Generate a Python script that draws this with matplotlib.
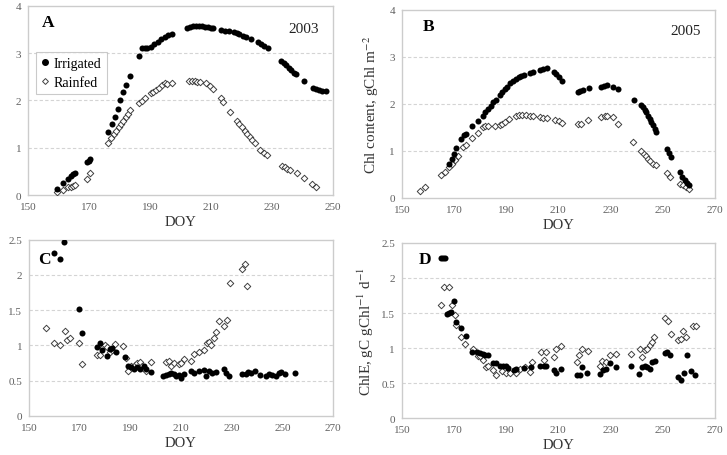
"""Four-panel chlorophyll content / ChlE scatter for irrigated vs rainfed maize."""

import matplotlib

matplotlib.use("Agg")
import matplotlib.pyplot as plt
from matplotlib.lines import Line2D

plt.rcParams["font.family"] = ["Liberation Serif", "DejaVu Serif"]
plt.rcParams["mathtext.fontset"] = "stix"

INK = "#000000"
EDGE = "#404040"
MUTED = "#606060"
FRAME = "#cccccc"
GRID = "#d4d4d4"

# ---- panel A: Chl content 2003 ----
a_irr_doy = [159.3, 161.3, 163.1, 164.0, 164.8, 165.4, 169.2, 169.8, 170.4,
             176.1, 177.3, 178.3, 179.4, 180.2, 181.2, 182.2, 183.4,
             186.3, 187.3, 188.2, 188.9, 190.3, 191.4, 192.5, 193.6, 194.7, 195.8, 197.2,
             202.1, 203.1, 204.0, 205.1, 206.0, 207.0, 208.0, 208.9, 209.8, 210.6,
             213.3, 214.4, 216.0, 217.4, 218.5, 219.3, 220.4, 221.5, 223.2,
             225.4, 226.5, 227.5, 228.6,
             233.0, 233.8, 234.7, 235.5, 236.3, 237.1, 238.0, 240.4,
             243.4, 244.3, 245.4, 246.5, 247.6]
a_irr_chl = [0.13, 0.25, 0.34, 0.41, 0.45, 0.47, 0.69, 0.72, 0.76,
             1.33, 1.50, 1.66, 1.83, 2.01, 2.17, 2.33, 2.51,
             2.94, 3.10, 3.10, 3.10, 3.13, 3.19, 3.24, 3.30, 3.35, 3.38, 3.41,
             3.54, 3.56, 3.57, 3.58, 3.58, 3.57, 3.56, 3.55, 3.54, 3.53,
             3.49, 3.47, 3.46, 3.44, 3.42, 3.40, 3.37, 3.34, 3.30,
             3.23, 3.19, 3.15, 3.10,
             2.84, 2.80, 2.75, 2.69, 2.64, 2.59, 2.55, 2.42,
             2.27, 2.25, 2.23, 2.21, 2.20]
a_rain_doy = [159.3, 161.3, 163.1, 164.0, 164.8, 165.4, 169.3, 170.3,
              176.3, 177.2, 178.0, 178.8, 179.7, 180.4, 181.2, 182.0, 182.8, 183.5,
              186.3, 187.3, 188.3, 190.3, 191.0, 192.0, 192.8, 193.9, 194.8, 195.6, 197.2,
              202.9, 203.8, 204.6, 205.4, 206.2, 208.4, 209.5, 210.6,
              213.3, 214.0, 216.3,
              218.5, 219.3, 220.2, 221.0, 221.8, 222.6, 223.4, 224.3,
              226.2, 227.5, 228.4,
              233.3, 234.1, 234.9, 236.0, 238.3, 240.4, 243.2, 244.3]
a_rain_chl = [0.06, 0.11, 0.18, 0.18, 0.20, 0.22, 0.34, 0.46,
              1.10, 1.20, 1.29, 1.36, 1.43, 1.50, 1.57, 1.64, 1.71, 1.80,
              1.94, 1.99, 2.05, 2.15, 2.18, 2.23, 2.27, 2.32, 2.37, 2.35, 2.36,
              2.41, 2.41, 2.41, 2.40, 2.40, 2.36, 2.31, 2.24,
              2.05, 1.96, 1.76,
              1.57, 1.50, 1.43, 1.36, 1.29, 1.22, 1.17, 1.10,
              0.96, 0.90, 0.85,
              0.62, 0.59, 0.56, 0.52, 0.46, 0.37, 0.23, 0.18]

# ---- panel B: Chl content 2005 ----
b_irr_doy = [168.0, 169.0, 170.0, 170.9, 172.8, 173.7, 174.4, 177.0, 179.2,
             181.0, 182.0, 183.0, 184.0, 185.0, 186.0, 187.5, 188.5, 189.4, 190.4,
             191.6, 192.6, 193.6, 194.8, 195.8, 197.0, 199.0, 200.3, 202.8, 204.1, 205.6,
             208.3, 209.2, 210.3, 211.4,
             217.5, 218.4, 219.5, 221.6,
             226.5, 227.5, 228.7, 231.0, 232.9,
             238.9,
             241.8, 242.5, 243.1, 243.8, 244.4, 245.0, 245.7, 246.3, 247.0, 247.6,
             251.7, 252.5, 253.4,
             256.8, 257.6, 258.5, 259.2, 260.0]
b_irr_chl = [0.73, 0.83, 0.94, 1.05, 1.26, 1.33, 1.36, 1.52, 1.63,
             1.75, 1.82, 1.89, 1.96, 2.04, 2.09, 2.18, 2.25, 2.32, 2.37,
             2.44, 2.49, 2.53, 2.57, 2.59, 2.61, 2.66, 2.67, 2.72, 2.74, 2.76,
             2.67, 2.64, 2.58, 2.49,
             2.26, 2.28, 2.30, 2.33,
             2.37, 2.39, 2.40, 2.37, 2.32,
             2.09,
             1.98, 1.93, 1.87, 1.82, 1.75, 1.68, 1.61, 1.54, 1.47, 1.41,
             1.03, 0.96, 0.87,
             0.55, 0.45, 0.37, 0.32, 0.27]
b_rain_doy = [156.8, 159.0, 165.0, 166.4,
              168.2, 169.3, 170.4, 171.4, 173.4, 174.4, 177.0, 179.2,
              181.0, 182.0, 183.0, 185.6, 187.5, 188.5, 189.7, 190.9,
              193.9, 194.9, 196.2, 197.5, 199.0, 200.3,
              202.8, 204.0, 205.6, 208.6, 210.1, 211.5,
              217.5, 218.8, 221.4,
              226.5, 227.8, 228.8, 231.0, 232.9,
              238.7,
              241.8, 242.7, 243.5, 244.4, 245.3, 246.3, 247.6,
              251.7, 253.0,
              256.8, 258.0, 258.9, 260.2]
b_rain_chl = [0.15, 0.23, 0.49, 0.54,
              0.66, 0.73, 0.80, 0.90, 1.08, 1.12, 1.27, 1.38,
              1.50, 1.52, 1.52, 1.52, 1.55, 1.58, 1.61, 1.67,
              1.74, 1.77, 1.77, 1.77, 1.75, 1.75,
              1.72, 1.71, 1.70, 1.65, 1.63, 1.60,
              1.57, 1.58, 1.65,
              1.73, 1.75, 1.74, 1.72, 1.58,
              1.19,
              0.99, 0.94, 0.89, 0.83, 0.78, 0.73, 0.69,
              0.52, 0.45,
              0.30, 0.28, 0.23, 0.18]

# ---- panel C: ChlE 2003 ----
c_irr_doy = [159.9, 162.1, 163.8, 169.7, 170.8,
             177.0, 177.9, 178.8, 180.8, 181.8, 182.9, 184.2,
             187.8, 189.0, 190.4, 191.4, 192.8, 193.9, 195.4, 196.3, 198.0,
             202.9, 204.2, 205.3, 206.2, 207.2, 208.2, 209.2, 210.1, 211.0,
             214.0, 215.0, 217.1, 218.9, 220.0, 221.0, 222.1, 224.0,
             227.0, 227.9, 228.9,
             234.2, 235.5, 236.4, 237.8, 239.1, 241.0,
             243.7, 244.7, 246.0, 247.4, 248.7, 249.6, 250.9, 255.1]
c_irr_chle = [2.31, 2.23, 2.47, 1.52, 1.17,
              0.98, 1.04, 0.93, 0.85, 0.95, 0.96, 0.90,
              0.83, 0.71, 0.69, 0.67, 0.69, 0.66, 0.71, 0.67, 0.62,
              0.56, 0.58, 0.59, 0.61, 0.59, 0.57, 0.58, 0.53, 0.59,
              0.63, 0.61, 0.64, 0.65, 0.57, 0.63, 0.61, 0.62,
              0.66, 0.61, 0.57,
              0.59, 0.59, 0.62, 0.61, 0.63, 0.58,
              0.57, 0.59, 0.58, 0.57, 0.61, 0.62, 0.60, 0.61]
c_rain_doy = [156.8, 159.9, 162.1, 164.0, 165.1, 166.0, 169.7, 171.0,
              177.0, 177.9, 179.0, 179.9, 180.8, 181.8, 182.9, 184.0,
              187.1, 188.2, 189.1, 190.4, 191.7, 192.8, 193.7, 194.7, 196.1, 198.0,
              204.2, 205.1, 205.9, 207.1, 209.1, 210.1, 211.2,
              214.0, 215.1, 217.1, 218.9,
              220.3, 221.1, 222.0, 223.0, 223.9, 225.0, 226.8, 228.2,
              229.2, 234.0, 235.1, 236.0]
c_rain_chle = [1.24, 1.03, 1.00, 1.21, 1.08, 1.11, 1.03, 0.74,
               0.86, 0.86, 0.97, 1.00, 0.97, 0.90, 0.93, 1.02,
               0.99, 0.82, 0.63, 0.71, 0.72, 0.75, 0.77, 0.71, 0.63, 0.76,
               0.76, 0.78, 0.71, 0.75, 0.73, 0.75, 0.80,
               0.78, 0.88, 0.90, 0.93,
               1.03, 1.05, 1.00, 1.11, 1.19, 1.34, 1.27, 1.36,
               1.88, 2.09, 2.15, 1.85]

# ---- panel D: ChlE 2005 ----
d_irr_doy = [164.8, 165.7, 166.4, 167.3, 168.0, 168.9, 169.8, 170.9, 172.8, 174.4,
             177.0, 178.8, 180.0, 181.1, 182.0, 183.0,
             185.0, 186.2, 187.7, 188.8, 190.0, 190.8,
             193.0, 193.9, 196.8, 199.6, 202.8, 204.4, 205.4,
             208.3, 209.2, 211.1,
             217.2, 218.2, 219.2, 221.1,
             226.1, 227.1, 228.4, 229.9, 232.0,
             238.0,
             241.0, 242.2, 243.3, 244.0, 245.0, 246.1, 247.0,
             250.8, 251.7, 252.7,
             255.9, 257.0, 258.2, 259.4, 261.0, 262.3]
d_irr_chle = [2.29, 2.29, 2.28, 1.48, 1.50, 1.52, 1.67, 1.37, 1.28, 1.17,
              0.95, 0.95, 0.93, 0.92, 0.90, 0.90,
              0.79, 0.79, 0.74, 0.75, 0.75, 0.71,
              0.69, 0.70, 0.71, 0.73, 0.74, 0.75, 0.75,
              0.68, 0.64, 0.70,
              0.61, 0.61, 0.73, 0.64,
              0.63, 0.68, 0.70, 0.78, 0.73,
              0.74,
              0.63, 0.73, 0.75, 0.73, 0.70, 0.80, 0.82,
              0.93, 0.95, 0.90,
              0.59, 0.54, 0.65, 0.90, 0.67, 0.61]
d_rain_doy = [164.8, 166.1, 168.0, 169.3, 170.2, 170.9, 172.8, 174.0,
              177.2, 179.2, 180.0, 181.1, 182.1, 183.0,
              185.0, 186.0, 188.2, 190.0, 191.3, 193.9, 195.2, 197.3, 199.2, 200.0,
              203.2, 204.4, 205.1, 208.2, 209.2, 211.1,
              217.2, 218.0, 219.2, 221.4,
              226.1, 226.9, 228.2, 229.9, 232.0,
              238.0,
              241.2, 242.2, 243.1, 244.0, 245.0, 245.9, 246.9,
              250.8, 252.1, 253.4,
              255.9, 257.0, 257.8, 258.9, 261.7, 262.7]
d_rain_chle = [1.62, 1.87, 1.87, 1.62, 1.47, 1.33, 1.16, 1.06,
               0.98, 0.88, 0.88, 0.83, 0.73, 0.75,
               0.68, 0.62, 0.67, 0.65, 0.65, 0.65, 0.70, 0.73, 0.66, 0.80,
               0.94, 0.83, 0.95, 0.87, 0.98, 1.03,
               0.80, 0.90, 0.98, 0.96,
               0.75, 0.82, 0.80, 0.90, 0.92,
               0.92,
               0.99, 0.87, 0.97, 0.99, 1.05, 1.08, 1.16,
               1.43, 1.38, 1.20,
               1.12, 1.13, 1.24, 1.16, 1.32, 1.32]

CHL_LABEL = r"Chl content, gChl m$^{-2}$"
CHLE_LABEL = r"ChlE, gC gChl$^{-1}$ d$^{-1}$"


def _scatter(ax, irr_x, irr_y, rain_x, rain_y):
    ax.scatter(rain_x, rain_y, s=11, marker="D", facecolor="white",
               edgecolor=EDGE, linewidth=0.7, zorder=3)
    ax.scatter(irr_x, irr_y, s=19, marker="o", color=INK, linewidth=0, zorder=4)


def _style(ax, xmax, ymax, ystep, ylabel, labelpad):
    ax.set_xlim(150, xmax)
    ax.set_ylim(0, ymax)
    ax.set_xticks(range(150, xmax + 1, 20))
    yticks = [i * ystep for i in range(int(round(ymax / ystep)) + 1)]
    ax.set_yticks(yticks)
    ax.set_yticklabels([f"{t:g}" for t in yticks])
    for t in yticks[1:-1]:
        ax.axhline(t, color=GRID, linewidth=0.8, linestyle=(0, (3, 2)), zorder=1)
    for spine in ax.spines.values():
        spine.set_color(FRAME)
        spine.set_linewidth(1.0)
    ax.tick_params(length=0, labelsize=8, colors=MUTED, pad=5)
    ax.set_xlabel("DOY", fontsize=10.5, color="#333333", labelpad=3)
    ax.set_ylabel(ylabel, fontsize=11, color="#333333", labelpad=labelpad)


fig = plt.figure(figsize=(7.27, 4.56), dpi=100, facecolor="white")
ax_a = fig.add_axes([0.039, 0.570, 0.419, 0.415])
ax_b = fig.add_axes([0.553, 0.564, 0.430, 0.412])
ax_c = fig.add_axes([0.040, 0.086, 0.418, 0.386])
ax_d = fig.add_axes([0.553, 0.081, 0.430, 0.384])

_scatter(ax_a, a_irr_doy, a_irr_chl, a_rain_doy, a_rain_chl)
_style(ax_a, 250, 4, 1, CHL_LABEL, 11)
_scatter(ax_b, b_irr_doy, b_irr_chl, b_rain_doy, b_rain_chl)
_style(ax_b, 270, 4, 1, CHL_LABEL, 6)
_scatter(ax_c, c_irr_doy, c_irr_chle, c_rain_doy, c_rain_chle)
_style(ax_c, 270, 2.5, 0.5, CHLE_LABEL, 13)
_scatter(ax_d, d_irr_doy, d_irr_chle, d_rain_doy, d_rain_chle)
_style(ax_d, 270, 2.5, 0.5, CHLE_LABEL, 4)

for ax, letter, pos in ((ax_a, "A", (0.045, 0.915)), (ax_b, "B", (0.065, 0.915)),
                        (ax_c, "C", (0.030, 0.89)), (ax_d, "D", (0.052, 0.91))):
    ax.text(*pos, letter, transform=ax.transAxes, fontsize=12.5,
            fontweight="bold", ha="left", va="center", color=INK, zorder=5)
ax_a.text(0.955, 0.88, "2003", transform=ax_a.transAxes, fontsize=11,
          ha="right", va="center", color="#222222")
ax_b.text(0.955, 0.89, "2005", transform=ax_b.transAxes, fontsize=11,
          ha="right", va="center", color="#222222")

handles = [
    Line2D([0], [0], marker="o", linestyle="none", markersize=4.0,
           markerfacecolor=INK, markeredgecolor=INK, label="Irrigated"),
    Line2D([0], [0], marker="D", linestyle="none", markersize=3.0,
           markerfacecolor="white", markeredgecolor=EDGE, markeredgewidth=0.7,
           label="Rainfed"),
]
leg = ax_a.legend(handles=handles, loc="upper left", bbox_to_anchor=(0.025, 0.755),
                  frameon=True, fancybox=False, edgecolor="#bdbdbd", fontsize=10,
                  handlelength=0.6, handletextpad=0.35, borderpad=0.35,
                  labelspacing=0.45, borderaxespad=0.0)
leg.get_frame().set_linewidth(0.8)

fig.savefig("out.png", dpi=100, facecolor="white")
